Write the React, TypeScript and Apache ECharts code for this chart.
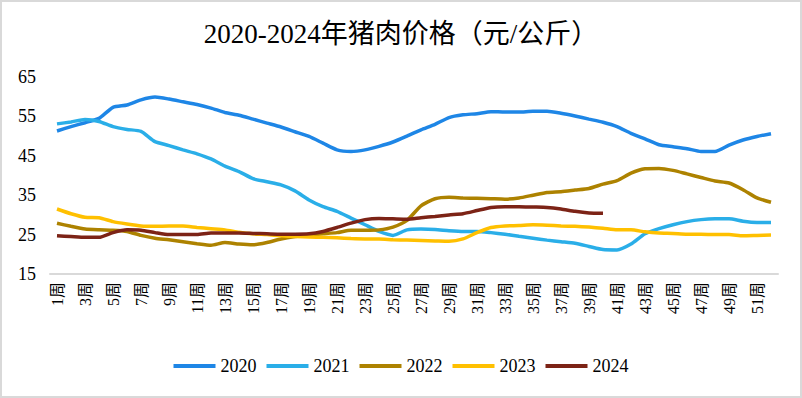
import React, { useEffect, useRef } from "react";
import * as echarts from "echarts";

const weeks: string[] = Array.from({ length: 52 }, (_, i) => `${i + 1}周`);

const s2020 = [51.3, 52.4, 53.4, 54.5, 57.3, 57.9, 59.2, 59.9, 59.4, 58.7, 58.0, 57.1, 56.0, 55.3, 54.3, 53.3, 52.3, 51.1, 49.9, 48.2, 46.5, 46.1, 46.5, 47.4, 48.5, 50.0, 51.6, 53.0, 54.7, 55.4, 55.7, 56.2, 56.1, 56.1, 56.3, 56.3, 55.8, 55.1, 54.3, 53.5, 52.4, 50.7, 49.3, 47.8, 47.3, 46.8, 46.1, 46.1, 47.7, 49.0, 49.9, 50.6];
const s2021 = [53.1, 53.6, 54.2, 53.7, 52.4, 51.7, 51.2, 48.6, 47.6, 46.5, 45.5, 44.2, 42.4, 41.0, 39.2, 38.4, 37.6, 36.1, 33.8, 32.1, 30.9, 29.2, 27.5, 25.8, 24.8, 26.2, 26.4, 26.3, 26.0, 25.8, 25.8, 25.5, 25.1, 24.6, 24.1, 23.6, 23.2, 22.8, 22.0, 21.2, 21.1, 22.6, 25.2, 26.5, 27.5, 28.3, 28.8, 29.0, 29.0, 28.4, 28.1, 28.1];
const s2022 = [27.9, 27.1, 26.4, 26.2, 26.1, 25.8, 24.8, 24.1, 23.7, 23.2, 22.7, 22.3, 23.0, 22.6, 22.4, 23.0, 23.9, 24.5, 24.9, 25.2, 25.5, 26.1, 26.1, 26.2, 26.9, 28.6, 32.3, 34.1, 34.5, 34.3, 34.2, 34.1, 34.0, 34.3, 35.0, 35.7, 35.9, 36.3, 36.7, 37.8, 38.7, 40.6, 41.7, 41.8, 41.3, 40.4, 39.5, 38.6, 38.1, 36.4, 34.3, 33.2];
const s2023 = [31.5, 30.3, 29.4, 29.3, 28.3, 27.7, 27.2, 27.1, 27.2, 27.2, 26.8, 26.5, 26.2, 25.6, 25.2, 25.0, 24.7, 24.5, 24.4, 24.3, 24.2, 24.0, 23.9, 23.9, 23.7, 23.6, 23.5, 23.4, 23.3, 23.9, 25.5, 26.8, 27.2, 27.3, 27.5, 27.4, 27.2, 27.1, 26.9, 26.6, 26.2, 26.2, 25.7, 25.4, 25.3, 25.1, 25.1, 25.0, 25.0, 24.7, 24.8, 24.9];
const s2024 = [24.7, 24.5, 24.3, 24.3, 25.5, 26.2, 26.1, 25.5, 25.0, 25.0, 25.0, 25.4, 25.4, 25.4, 25.3, 25.2, 25.1, 25.1, 25.2, 25.8, 26.8, 27.9, 28.8, 29.1, 29.0, 28.9, 29.3, 29.6, 30.0, 30.3, 31.1, 31.9, 32.1, 32.1, 32.0, 31.9, 31.5, 30.9, 30.5, 30.4];

const seriesNames = ["2020", "2021", "2022", "2023", "2024"];
const seriesColors = ["#1E86E6", "#2AAEE8", "#AD8200", "#FFC000", "#7C2316"];
const seriesData = [s2020, s2021, s2022, s2023, s2024];

const SERIF = "'Times New Roman', 'Liberation Serif', 'Noto Sans CJK SC', serif";

export default function App() {
  const ref = useRef<HTMLDivElement>(null);
  useEffect(() => {
    if (!ref.current) return;
    const chart = echarts.init(ref.current, undefined, { renderer: "svg" });
    chart.setOption({
      animation: false,
      backgroundColor: "#ffffff",
      title: {
        text: "2020-2024年猪肉价格（元/公斤）",
        left: "center",
        top: 13,
        textStyle: { fontFamily: SERIF, fontSize: 27, fontWeight: "normal", color: "#000" },
      },
      legend: {
        bottom: 16,
        left: "center",
        itemWidth: 42,
        itemHeight: 4,
        itemGap: 10,
        icon: "rect",
        textStyle: { fontFamily: SERIF, fontSize: 18, color: "#000" },
        data: seriesNames,
      },
      grid: { left: 48, right: 22, top: 75, bottom: 122 },
      xAxis: {
        type: "category",
        data: weeks,
        boundaryGap: true,
        axisLine: { lineStyle: { color: "#D9D9D9", width: 2 } },
        axisTick: { show: false },
        axisLabel: {
          interval: 1,
          rotate: 90,
          margin: 8,
          fontFamily: SERIF,
          fontSize: 16,
          color: "#000",
        },
      },
      yAxis: {
        type: "value",
        min: 15,
        max: 65,
        interval: 10,
        splitLine: { show: false },
        axisLine: { show: false },
        axisTick: { show: false },
        axisLabel: { margin: 14, fontFamily: SERIF, fontSize: 18, color: "#000" },
      },
      series: seriesNames.map((name, i) => ({
        name,
        type: "line",
        data: seriesData[i],
        smooth: 0.2,
        symbol: "none",
        lineStyle: { width: 3.5, color: seriesColors[i] },
        itemStyle: { color: seriesColors[i] },
      })),
    });
    return () => chart.dispose();
  }, []);
  return (
    <div
      style={{
        position: "fixed",
        left: 0,
        top: 0,
        width: 802,
        height: 398,
        boxSizing: "border-box",
        border: "2px solid #D9D9D9",
        background: "#fff",
      }}
    >
      <div ref={ref} style={{ width: 798, height: 394 }} />
    </div>
  );
}
